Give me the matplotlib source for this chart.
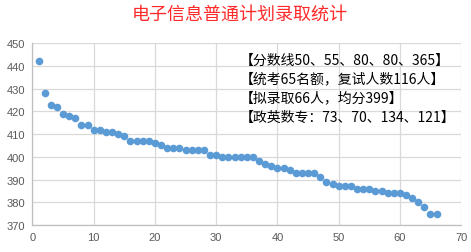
import matplotlib
matplotlib.use("Agg")
import matplotlib.pyplot as plt
import numpy as np

plt.rcParams['font.family'] = ['Noto Sans CJK SC', 'DejaVu Sans']

title = "电子信息普通计划录取统计"
notes = ["【分数线50、55、80、80、365】",
         "【统考65名额，复试人数116人】",
         "【拟录取66人，均分399】",
         "【政英数专：73、70、134、121】"]

ranks = list(range(1, 67))
scores = [442, 428, 423, 422, 419, 418, 417, 414, 414, 412,
          412, 411, 411, 410, 409, 407, 407, 407, 407, 406,
          405, 404, 404, 404, 403, 403, 403, 403, 401, 401,
          400, 400, 400, 400, 400, 400, 398, 397, 396, 395,
          395, 394, 393, 393, 393, 393, 391, 389, 388, 387,
          387, 387, 386, 386, 386, 385, 385, 384, 384, 384,
          383, 382, 380, 378, 375, 375]
xticks = [0, 10, 20, 30, 40, 50, 60, 70]
yticks = [370, 380, 390, 400, 410, 420, 430, 440, 450]

fig = plt.figure(figsize=(4.71, 2.53), dpi=100)
ax = fig.add_axes([0.069, 0.107, 0.910, 0.718])
ax.scatter(ranks, scores, s=30, color='#5B9BD5', zorder=3, linewidths=0)
ax.set_xlim(0, 70)
ax.set_ylim(370, 450)
ax.set_xticks(xticks)
ax.set_yticks(yticks)
ax.grid(True, color='#D9D9D9', linewidth=0.9)
ax.set_axisbelow(True)
for s in ['top', 'right']:
    ax.spines[s].set_visible(False)
for s in ['left', 'bottom']:
    ax.spines[s].set_color('#BFBFBF')
    ax.spines[s].set_linewidth(0.9)
ax.tick_params(length=0, labelsize=8, labelcolor='#595959', pad=5)
for lab in ax.get_xticklabels() + ax.get_yticklabels():
    lab.set_family(['Liberation Sans', 'DejaVu Sans'])

fig.text(0.51, 0.94, title, color='#FF2A2A', fontsize=13, ha='center', va='center',
         fontweight='light')
for i, t in enumerate(notes):
    fig.text(0.508, 1 - (60.7 + 19 * i) / 253, t, color='black', fontsize=10,
             ha='left', va='center')

fig.savefig('out.png', dpi=100)
